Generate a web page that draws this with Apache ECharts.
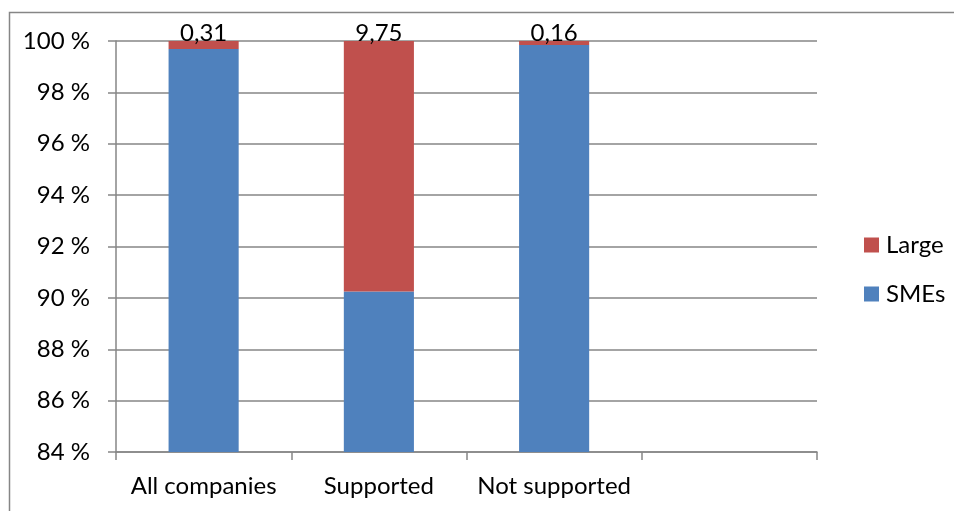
<!DOCTYPE html>
<html>
<head>
<meta charset="utf-8">
<script src="https://cdn.jsdelivr.net/npm/echarts@6/dist/echarts.min.js"></script>
<style>
  html, body { margin: 0; padding: 0; background: #fff; }
  #chart { width: 954px; height: 511px; }
</style>
</head>
<body>
<div id="chart"></div>
<script>
// Company groups along the x axis (the fourth slot is left empty)
const categories = ['All companies', 'Supported', 'Not supported', ''];
// Share of SMEs and large companies, in percent
const smeShare = [99.69, 90.25, 99.84, null];
const largeShare = [0.31, 9.75, 0.16, null];
// Value axis range
const yMin = 84;
const yMax = 100;
const yStep = 2;

const FONT = 'Lato, "Open Sans", sans-serif';
const FS = 24;
const GRAY = '#868686';

const chart = echarts.init(document.getElementById('chart'), null, { renderer: 'canvas' });

chart.setOption({
  animation: false,
  backgroundColor: '#ffffff',
  textStyle: { fontFamily: FONT },
  graphic: [{
    type: 'rect',
    shape: { x: 9.5, y: 12.5, width: 1000, height: 600 },
    style: { fill: 'none', stroke: GRAY, lineWidth: 1.5 },
    silent: true
  }],
  grid: { left: 116, right: 137, top: 41, bottom: 59, containLabel: false },
  legend: {
    orient: 'vertical',
    left: 859,
    top: 228,
    itemWidth: 15,
    itemHeight: 15,
    itemGap: 25,
    icon: 'rect',
    data: ['Large', 'SMEs'],
    textStyle: { fontSize: FS, lineHeight: 24, color: '#000', fontFamily: FONT, padding: [0, 0, 0, 2] }
  },
  xAxis: {
    type: 'category',
    data: categories,
    boundaryGap: true,
    axisLine: { show: true, lineStyle: { color: GRAY, width: 1.5 } },
    axisTick: { show: true, interval: 0, length: 8, lineStyle: { color: GRAY, width: 1.5 } },
    axisLabel: { interval: 0, hideOverlap: false, fontSize: FS, color: '#000', margin: 22, fontFamily: FONT }
  },
  yAxis: {
    type: 'value',
    min: yMin,
    max: yMax,
    interval: yStep,
    axisLine: { show: true, lineStyle: { color: GRAY, width: 1.5 } },
    axisTick: { show: true, length: 8, lineStyle: { color: GRAY, width: 1.5 } },
    splitLine: { show: true, lineStyle: { color: GRAY, width: 1.5 } },
    axisLabel: {
      fontSize: FS, color: '#000', margin: 26, fontFamily: FONT,
      formatter: v => v + ' %'
    }
  },
  series: [
    {
      name: 'SMEs',
      type: 'bar',
      stack: 'total',
      barWidth: '40%',
      data: smeShare,
      itemStyle: { color: '#4F81BD' }
    },
    {
      name: 'Large',
      type: 'bar',
      stack: 'total',
      barWidth: '40%',
      data: largeShare,
      itemStyle: { color: '#C0504D' },
      label: {
        show: true,
        position: 'top',
        distance: -4,
        fontSize: FS,
        color: '#000',
        fontFamily: FONT,
        formatter: p => p.value == null ? '' : p.value.toFixed(2).replace('.', ',')
      }
    }
  ]
});
</script>
</body>
</html>
